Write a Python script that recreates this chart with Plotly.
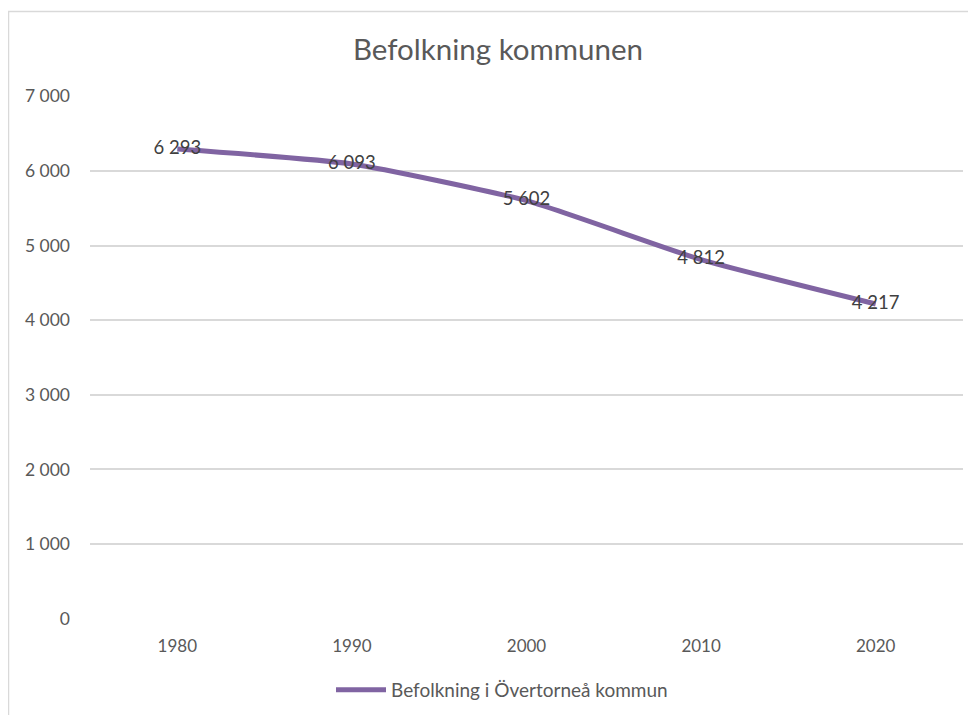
import plotly.graph_objects as go

years = ["1980", "1990", "2000", "2010", "2020"]
population = [6293, 6093, 5602, 4812, 4217]
y_ticks = [0, 1000, 2000, 3000, 4000, 5000, 6000, 7000]

FONT = "Lato, Carlito, Calibri, sans-serif"

fig = go.Figure()
fig.add_trace(go.Scatter(
    x=years, y=population,
    mode="lines+text",
    line=dict(color="#8064A2", width=5, shape="spline", smoothing=0.5),
    text=population,
    texttemplate="%{y:,}",
    textposition="middle center",
    textfont=dict(family=FONT, size=18.5, color="#404040"),
    name="Befolkning i Övertorneå kommun",
    hoverinfo="x+y",
))

# page body has an 8px margin, so the figure is offset by 8px
OFF = 8
W, H = 976 - OFF, 715 - OFF
L, T = 90 - OFF, 96 - OFF
R = W - (963 - OFF)
B = H - (619 - OFF)
pw, ph = W - L - R, H - T - B

def px(xp):
    return (xp - OFF - L) / pw

def py(yp):
    return (H - B - (yp - OFF)) / ph

fig.update_layout(
    width=W, height=H,
    margin=dict(l=L, r=R, t=T, b=B, autoexpand=False),
    paper_bgcolor="white",
    plot_bgcolor="white",
    separators=", ",
    font=dict(family=FONT, color="#595959", size=17),
    title=dict(
        text="Befolkning kommunen",
        font=dict(family=FONT, size=29.5, color="#595959"),
        x=px(498), xref="paper", xanchor="center",
        y=1 - (50 - OFF) / H, yref="container", yanchor="middle",
    ),
    xaxis=dict(
        type="category",
        range=[-0.5, 4.5],
        showgrid=False,
        showline=False,
        zeroline=False,
        ticks="",
        tickfont=dict(family=FONT, size=17, color="#595959"),
        ticklabelstandoff=15,
        automargin=False,
    ),
    yaxis=dict(
        range=[-4, 7004],
        tickvals=y_ticks,
        tickformat=",",
        showgrid=True,
        gridcolor="#d9d9d9",
        gridwidth=1.5,
        zeroline=False,
        showline=False,
        ticks="",
        tickfont=dict(family=FONT, size=17.5, color="#595959"),
        ticklabelstandoff=19,
        automargin=False,
    ),
    showlegend=True,
    legend=dict(
        orientation="h",
        x=px(331), xanchor="left",
        y=py(690), yanchor="middle",
        itemwidth=50,
        font=dict(family=FONT, size=19, color="#595959"),
        bgcolor="rgba(0,0,0,0)",
    ),
    shapes=[dict(
        type="rect", xref="paper", yref="paper",
        x0=px(8.5), x1=px(990), y0=py(740), y1=py(11.5),
        line=dict(color="#d9d9d9", width=1.5),
        fillcolor="rgba(0,0,0,0)",
        layer="below",
    )],
)

fig.write_html("out.html")
